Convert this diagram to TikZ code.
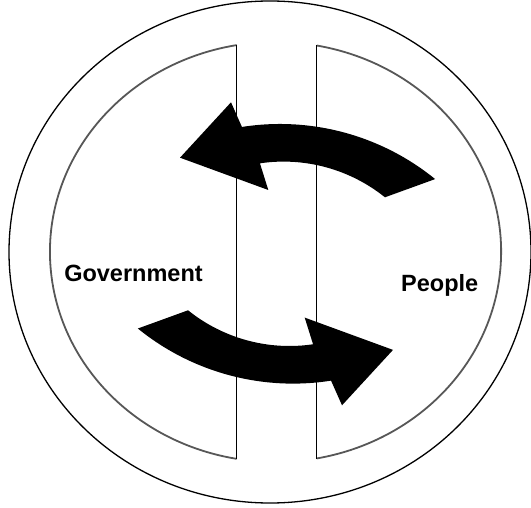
\documentclass[tikz,border=0pt]{standalone}
\usepackage{fontspec}
\setmainfont{Liberation Sans}
\newcommand\loopArrowPath{%
  (-106.5,-96.1) -- (-55.5,-151.5) -- (-44.56,-126.85)
  arc[start angle=-98.9, end angle=-50.9, radius=246]
  -- (98.45,-56.5)
  arc[start angle=-51.2, end angle=-98.4, radius=161.8]
  -- (-18.2,-63.8) -- cycle}
\begin{document}
\begin{tikzpicture}[x=1pt,y=-1pt,
  ringline/.style={draw=black,line width=1.3pt},
  halfarc/.style={draw=black!66,line width=1.8pt},
  divider/.style={draw=black,line width=0.9pt},
  bigarrow/.style={fill=black,draw=none},
  lbl/.style={font=\fontsize{23.5}{28}\selectfont\bfseries,inner sep=0pt,anchor=base,text=black}]
\useasboundingbox (0,0) rectangle (531,508);
% outer ring
\draw[ringline] (270,252) ellipse [x radius=261, y radius=251];
% half discs
\coordinate (LT) at (236.7,45.1);
\coordinate (LB) at (236.7,458.9);
\coordinate (RT) at (316.7,45.5);
\coordinate (RB) at (316.7,458.5);
\draw[halfarc] (LT) arc[start angle=260.1, end angle=99.9, x radius=225.5, y radius=210];
\draw[halfarc] (RT) arc[start angle=-79.5, end angle=79.5, x radius=225.5, y radius=210];
\draw[divider] (LT) -- (LB);
\draw[divider] (RT) -- (RB);
% arrows
\begin{scope}[shift={(286.5,253.8)}]
  \fill[bigarrow] \loopArrowPath;
\end{scope}
\begin{scope}[shift={(286.5,253.8)},rotate=180]
  \fill[bigarrow] \loopArrowPath;
\end{scope}
% labels
\node[lbl] (gov) at (133.5,282) {Government};
\node[lbl] (ppl) at (439.7,291) {People};
\end{tikzpicture}
\end{document}
